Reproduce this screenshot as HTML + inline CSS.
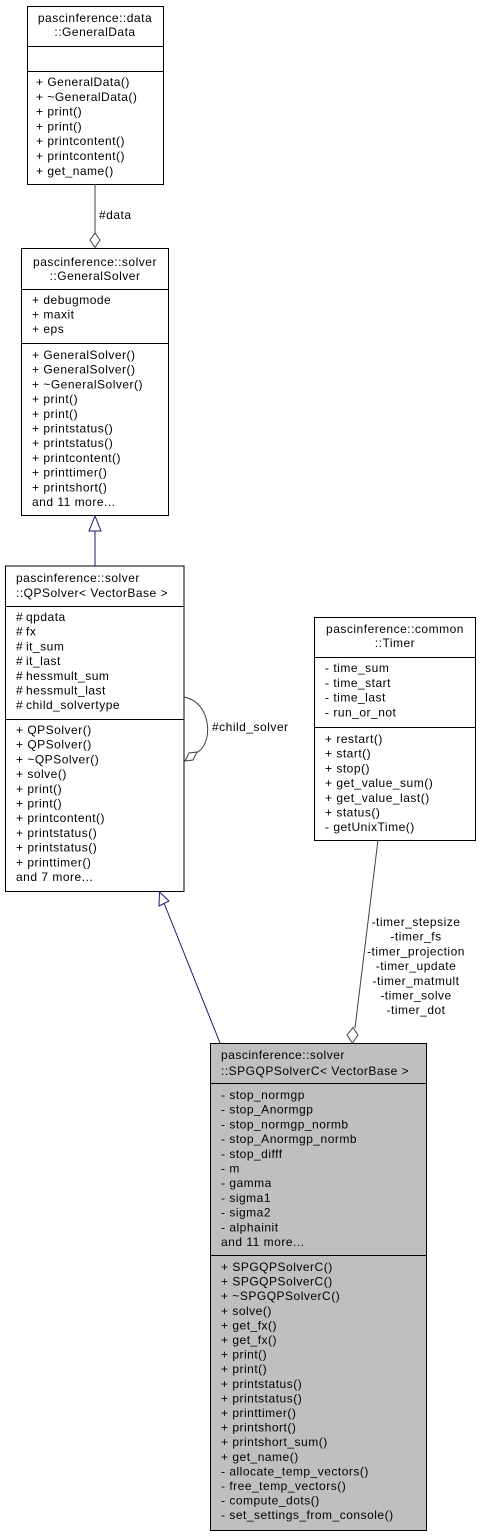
<!DOCTYPE html>
<html><head><meta charset="utf-8"><style>
html,body{margin:0;padding:0;background:#fff;}
svg{display:block;}
text{font-family:"Liberation Sans",sans-serif;font-size:12px;fill:#000;letter-spacing:0.5px;}
</style></head><body>
<svg width="481" height="1536" viewBox="0 0 481 1536" xmlns="http://www.w3.org/2000/svg">
<rect x="27.5" y="6.5" width="136" height="178" fill="#fff" stroke="#000"/>
<line x1="27" y1="46.5" x2="164" y2="46.5" stroke="#000"/>
<line x1="27" y1="71.5" x2="164" y2="71.5" stroke="#000"/>
<text x="95" y="22" text-anchor="middle">pascinference::data</text>
<text x="95" y="36" text-anchor="middle">::GeneralData</text>
<text x="36" y="86">+ GeneralData()</text>
<text x="36" y="100.8">+ ~GeneralData()</text>
<text x="36" y="115.6">+ print()</text>
<text x="36" y="130.4">+ print()</text>
<text x="36" y="145.2">+ printcontent()</text>
<text x="36" y="160">+ printcontent()</text>
<text x="36" y="174.8">+ get_name()</text>
<line x1="95" y1="184" x2="95" y2="233" stroke="#404040"/>
<polygon points="95,233 100,240 95,247.5 90,240" fill="#fff" stroke="#404040"/>
<text x="99" y="219">#data</text>
<rect x="21.5" y="248.5" width="147" height="267" fill="#fff" stroke="#000"/>
<line x1="21" y1="289.5" x2="169" y2="289.5" stroke="#000"/>
<line x1="21" y1="343.5" x2="169" y2="343.5" stroke="#000"/>
<text x="95" y="266" text-anchor="middle">pascinference::solver</text>
<text x="95" y="280" text-anchor="middle">::GeneralSolver</text>
<text x="32" y="304">+ debugmode</text>
<text x="32" y="318.5">+ maxit</text>
<text x="32" y="333">+ eps</text>
<text x="32" y="359">+ GeneralSolver()</text>
<text x="32" y="373.7">+ GeneralSolver()</text>
<text x="32" y="388.4">+ ~GeneralSolver()</text>
<text x="32" y="403.1">+ print()</text>
<text x="32" y="417.8">+ print()</text>
<text x="32" y="432.5">+ printstatus()</text>
<text x="32" y="447.2">+ printstatus()</text>
<text x="32" y="461.9">+ printcontent()</text>
<text x="32" y="476.6">+ printtimer()</text>
<text x="32" y="491.3">+ printshort()</text>
<text x="32" y="506">and 11 more...</text>
<line x1="95" y1="531" x2="95" y2="566" stroke="#191970"/>
<polygon points="95,516 101,531 89,531" fill="#fff" stroke="#191970"/>
<rect x="5.5" y="566" width="178.5" height="325.5" fill="#fff" stroke="#000"/>
<line x1="5" y1="606.5" x2="184" y2="606.5" stroke="#000"/>
<line x1="5" y1="719.5" x2="184" y2="719.5" stroke="#000"/>
<text x="16" y="582">pascinference::solver</text>
<text x="16" y="597">::QPSolver&lt; VectorBase &gt;</text>
<text x="16" y="621">#</text><text x="26" y="621">qpdata</text>
<text x="16" y="635.7">#</text><text x="26" y="635.7">fx</text>
<text x="16" y="650.4">#</text><text x="26" y="650.4">it_sum</text>
<text x="16" y="665.1">#</text><text x="26" y="665.1">it_last</text>
<text x="16" y="679.8">#</text><text x="26" y="679.8">hessmult_sum</text>
<text x="16" y="694.5">#</text><text x="26" y="694.5">hessmult_last</text>
<text x="16" y="709.2">#</text><text x="26" y="709.2">child_solvertype</text>
<text x="16" y="734">+ QPSolver()</text>
<text x="16" y="748.7">+ QPSolver()</text>
<text x="16" y="763.4">+ ~QPSolver()</text>
<text x="16" y="778.1">+ solve()</text>
<text x="16" y="792.8">+ print()</text>
<text x="16" y="807.5">+ print()</text>
<text x="16" y="822.2">+ printcontent()</text>
<text x="16" y="836.9">+ printstatus()</text>
<text x="16" y="851.6">+ printstatus()</text>
<text x="16" y="866.3">+ printtimer()</text>
<text x="16" y="881">and 7 more...</text>
<path d="M184,697 C212,702 214,745 196,753" fill="none" stroke="#404040"/>
<polygon points="185,761 189,753 197,752 193,760" fill="#fff" stroke="#404040"/>
<text x="212" y="731">#child_solver</text>
<rect x="314.5" y="617.5" width="161" height="223" fill="#fff" stroke="#000"/>
<line x1="314" y1="657.5" x2="476" y2="657.5" stroke="#000"/>
<line x1="314" y1="727.5" x2="476" y2="727.5" stroke="#000"/>
<text x="395" y="633" text-anchor="middle">pascinference::common</text>
<text x="395" y="647" text-anchor="middle">::Timer</text>
<text x="325" y="672">- time_sum</text>
<text x="325" y="686.8">- time_start</text>
<text x="325" y="701.6">- time_last</text>
<text x="325" y="716.4">- run_or_not</text>
<text x="325" y="743">+ restart()</text>
<text x="325" y="757.7">+ start()</text>
<text x="325" y="772.4">+ stop()</text>
<text x="325" y="787.1">+ get_value_sum()</text>
<text x="325" y="801.8">+ get_value_last()</text>
<text x="325" y="816.5">+ status()</text>
<text x="325" y="831.2">- getUnixTime()</text>
<line x1="378" y1="840" x2="355" y2="1028" stroke="#404040"/>
<polygon points="353,1027.5 358,1035 352.5,1043 347,1035" fill="#fff" stroke="#404040"/>
<g text-anchor="middle">
<text x="416" y="926">-timer_stepsize</text>
<text x="416" y="940.7">-timer_fs</text>
<text x="416" y="955.4">-timer_projection</text>
<text x="416" y="970.1">-timer_update</text>
<text x="416" y="984.8">-timer_matmult</text>
<text x="416" y="999.5">-timer_solve</text>
<text x="416" y="1014.2">-timer_dot</text>
</g>
<line x1="164" y1="903" x2="220" y2="1043" stroke="#191970"/>
<polygon points="159.5,892 159,906 169,901" fill="#fff" stroke="#191970"/>
<rect x="210.5" y="1043.5" width="216" height="487" fill="#bfbfbf" stroke="#000"/>
<line x1="210" y1="1083.5" x2="427" y2="1083.5" stroke="#000"/>
<line x1="210" y1="1255.5" x2="427" y2="1255.5" stroke="#000"/>
<text x="221" y="1059">pascinference::solver</text>
<text x="221" y="1075">::SPGQPSolverC&lt; VectorBase &gt;</text>
<text x="221" y="1099">- stop_normgp</text>
<text x="221" y="1113.7">- stop_Anormgp</text>
<text x="221" y="1128.4">- stop_normgp_normb</text>
<text x="221" y="1143.1">- stop_Anormgp_normb</text>
<text x="221" y="1157.8">- stop_difff</text>
<text x="221" y="1172.5">- m</text>
<text x="221" y="1187.2">- gamma</text>
<text x="221" y="1201.9">- sigma1</text>
<text x="221" y="1216.6">- sigma2</text>
<text x="221" y="1231.3">- alphainit</text>
<text x="221" y="1246">and 11 more...</text>
<text x="221" y="1271">+ SPGQPSolverC()</text>
<text x="221" y="1285.6">+ SPGQPSolverC()</text>
<text x="221" y="1300.2">+ ~SPGQPSolverC()</text>
<text x="221" y="1314.8">+ solve()</text>
<text x="221" y="1329.4">+ get_fx()</text>
<text x="221" y="1344">+ get_fx()</text>
<text x="221" y="1358.6">+ print()</text>
<text x="221" y="1373.2">+ print()</text>
<text x="221" y="1387.8">+ printstatus()</text>
<text x="221" y="1402.4">+ printstatus()</text>
<text x="221" y="1417">+ printtimer()</text>
<text x="221" y="1431.6">+ printshort()</text>
<text x="221" y="1446.2">+ printshort_sum()</text>
<text x="221" y="1460.8">+ get_name()</text>
<text x="221" y="1475.4">- allocate_temp_vectors()</text>
<text x="221" y="1490">- free_temp_vectors()</text>
<text x="221" y="1504.6">- compute_dots()</text>
<text x="221" y="1519.2">- set_settings_from_console()</text>
</svg>
</body></html>
